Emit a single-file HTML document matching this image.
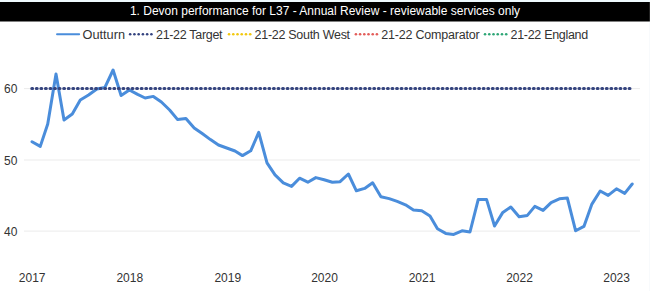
<!DOCTYPE html>
<html><head><meta charset="utf-8">
<style>
html,body{margin:0;padding:0;background:#fff;}
body{width:650px;height:291px;overflow:hidden;position:relative;font-family:"Liberation Sans",sans-serif;}
.topstrip{position:absolute;left:0;top:0;width:650px;height:2px;background:#effafe;}

svg{position:absolute;left:0;top:0;}
</style></head><body>
<div class="topstrip"></div>
<svg width="650" height="291" viewBox="0 0 650 291" font-family="Liberation Sans, sans-serif">
  <rect x="0" y="2" width="649" height="19.5" fill="#000"/>
  <rect x="649" y="21.5" width="1" height="269.5" fill="#f8fafc"/>
  <rect x="649" y="2" width="1" height="19.5" fill="#222"/>
  <text x="325" y="14.6" fill="#fff" font-size="12" text-anchor="middle">1. Devon performance for L37 - Annual Review - reviewable services only</text>
  <!-- legend -->
  <g font-size="12.5" fill="#333333">
    <line x1="57" y1="34.2" x2="79.2" y2="34.2" stroke="#4a8ddb" stroke-width="1.9" stroke-linecap="round"/>
    <text x="82.5" y="39.3" textLength="42.5" lengthAdjust="spacingAndGlyphs">Outturn</text>
    <circle cx="130.15" cy="34.2" r="1.3" fill="#34437f"/><circle cx="134.40" cy="34.2" r="1.3" fill="#34437f"/><circle cx="138.65" cy="34.2" r="1.3" fill="#34437f"/><circle cx="142.90" cy="34.2" r="1.3" fill="#34437f"/><circle cx="147.15" cy="34.2" r="1.3" fill="#34437f"/><circle cx="151.40" cy="34.2" r="1.3" fill="#34437f"/>
    <text x="156" y="39.3" textLength="66.5" lengthAdjust="spacing">21-22 Target</text>
    <circle cx="229.05" cy="34.2" r="1.3" fill="#f2c80f"/><circle cx="233.28" cy="34.2" r="1.3" fill="#f2c80f"/><circle cx="237.51" cy="34.2" r="1.3" fill="#f2c80f"/><circle cx="241.74" cy="34.2" r="1.3" fill="#f2c80f"/><circle cx="245.97" cy="34.2" r="1.3" fill="#f2c80f"/><circle cx="250.20" cy="34.2" r="1.3" fill="#f2c80f"/>
    <text x="254.6" y="39.3" textLength="95.5" lengthAdjust="spacing">21-22 South West</text>
    <circle cx="355.90" cy="34.2" r="1.3" fill="#e35d5a"/><circle cx="360.10" cy="34.2" r="1.3" fill="#e35d5a"/><circle cx="364.30" cy="34.2" r="1.3" fill="#e35d5a"/><circle cx="368.50" cy="34.2" r="1.3" fill="#e35d5a"/><circle cx="372.70" cy="34.2" r="1.3" fill="#e35d5a"/><circle cx="376.90" cy="34.2" r="1.3" fill="#e35d5a"/>
    <text x="381.2" y="39.3" textLength="98.5" lengthAdjust="spacing">21-22 Comparator</text>
    <circle cx="485.05" cy="34.2" r="1.3" fill="#2ea676"/><circle cx="489.28" cy="34.2" r="1.3" fill="#2ea676"/><circle cx="493.51" cy="34.2" r="1.3" fill="#2ea676"/><circle cx="497.74" cy="34.2" r="1.3" fill="#2ea676"/><circle cx="501.97" cy="34.2" r="1.3" fill="#2ea676"/><circle cx="506.20" cy="34.2" r="1.3" fill="#2ea676"/>
    <text x="510.6" y="39.3" textLength="77.5" lengthAdjust="spacing">21-22 England</text>
  </g>
  <!-- gridlines -->
  <g stroke="#ebebeb" stroke-width="1">
    <line x1="24" y1="88.6" x2="640" y2="88.6"/>
    <line x1="24" y1="160" x2="640" y2="160"/>
    <line x1="24" y1="231.1" x2="640" y2="231.1"/>
  </g>
  <g font-size="12" fill="#333333">
    <text x="4" y="93">60</text>
    <text x="4" y="164.5">50</text>
    <text x="4" y="235.8">40</text>
  </g>
  <g font-size="12" fill="#333333" text-anchor="middle">
    <text x="32.2" y="282">2017</text>
    <text x="129.8" y="282">2018</text>
    <text x="227.8" y="282">2019</text>
    <text x="324.5" y="282">2020</text>
    <text x="422" y="282">2021</text>
    <text x="519.5" y="282">2022</text>
    <text x="616.6" y="282">2023</text>
  </g>
  <!-- outturn -->
  <polyline fill="none" stroke="#4a8ddb" stroke-width="3" stroke-linejoin="round" stroke-linecap="round" points="32.00,141.70 40.27,146.40 47.74,124.00 56.01,74.00 64.01,120.00 72.28,114.00 80.28,100.00 88.55,95.00 96.82,89.00 104.82,87.60 113.09,70.00 121.09,95.50 129.36,90.00 137.63,94.40 145.10,98.00 153.37,96.40 161.37,102.00 169.64,110.00 177.65,119.60 185.91,118.40 194.18,128.00 202.19,133.60 210.46,139.60 218.46,145.00 226.73,148.00 235.00,151.00 242.47,155.60 250.73,150.80 258.74,132.40 267.01,162.80 275.01,174.90 283.28,182.80 291.55,186.40 299.55,178.20 307.82,182.20 315.82,177.60 324.09,179.70 332.36,182.30 340.10,181.70 348.37,174.00 356.37,190.80 364.64,188.40 372.64,182.80 380.91,196.80 389.18,198.60 397.18,201.40 405.45,204.80 413.45,210.00 421.72,210.80 429.99,216.00 437.46,228.80 445.73,233.40 453.73,234.40 462.00,230.80 470.00,232.00 478.27,199.40 486.54,199.40 494.54,226.00 502.81,212.40 510.82,207.00 519.09,216.80 527.35,215.40 534.82,206.40 543.09,210.40 551.10,202.60 559.36,198.80 567.37,198.10 575.64,230.80 583.91,226.40 591.91,204.10 600.18,191.00 608.18,195.40 616.45,188.80 624.72,193.40 632.19,184.00"/>
  <!-- target line -->
  <line x1="31.75" y1="88.5" x2="632" y2="88.5" stroke="#36457f" stroke-width="3" stroke-linecap="round" stroke-dasharray="0.9 3.66"/>
</svg>
</body></html>
